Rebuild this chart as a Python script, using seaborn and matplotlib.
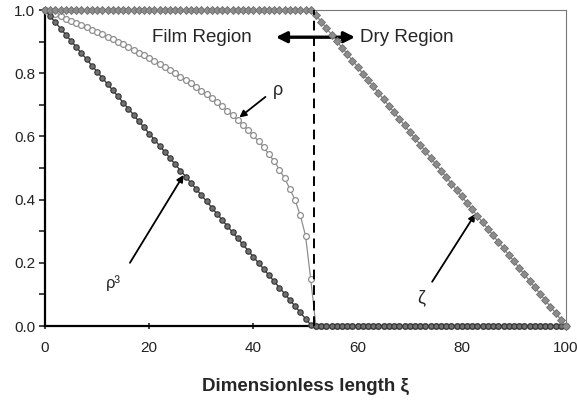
import numpy as np
import pandas as pd
import matplotlib
matplotlib.use("Agg")
import matplotlib.pyplot as plt
import seaborn as sns

# Dimensionless length (grid points)
xi = list(range(0, 101))

# rho^3 : liquid film fraction, falls linearly to zero at the film front
rho3 = [1.000, 0.980, 0.961, 0.941, 0.922, 0.902, 0.883, 0.863, 0.844, 0.824,
        0.805, 0.785, 0.766, 0.746, 0.727, 0.707, 0.688, 0.668, 0.648, 0.629,
        0.609, 0.590, 0.570, 0.551, 0.531, 0.512, 0.492, 0.473, 0.453, 0.434,
        0.414, 0.395, 0.375, 0.355, 0.336, 0.316, 0.297, 0.277, 0.258, 0.238,
        0.219, 0.199, 0.180, 0.160, 0.141, 0.121, 0.102, 0.082, 0.063, 0.043,
        0.023, 0.004] + [0.0] * 49

# rho : film thickness profile
rho = [1.000, 0.993, 0.987, 0.980, 0.973, 0.966, 0.959, 0.952, 0.945, 0.938,
       0.930, 0.923, 0.915, 0.907, 0.899, 0.891, 0.883, 0.874, 0.865, 0.857,
       0.848, 0.839, 0.829, 0.820, 0.810, 0.800, 0.789, 0.779, 0.768, 0.757,
       0.745, 0.734, 0.721, 0.708, 0.695, 0.681, 0.667, 0.652, 0.637, 0.620,
       0.603, 0.584, 0.565, 0.543, 0.521, 0.495, 0.467, 0.434, 0.398, 0.350,
       0.286, 0.148] + [0.0] * 49

# zeta : dry-region variable
zeta = [1.0] * 52 + [
    0.984, 0.963, 0.943, 0.922, 0.902, 0.881, 0.861, 0.840, 0.820, 0.799,
    0.779, 0.758, 0.738, 0.717, 0.697, 0.676, 0.656, 0.635, 0.615, 0.594,
    0.574, 0.553, 0.533, 0.512, 0.492, 0.471, 0.451, 0.430, 0.410, 0.389,
    0.369, 0.348, 0.328, 0.307, 0.287, 0.266, 0.246, 0.225, 0.205, 0.184,
    0.164, 0.143, 0.123, 0.102, 0.082, 0.061, 0.041, 0.020, 0.000]

front_xi = 51.6

df = pd.DataFrame({"xi": xi, "rho3": rho3, "rho": rho, "zeta": zeta})

sns.set_style("ticks")
plt.rcParams["font.family"] = ["Liberation Sans", "DejaVu Sans"]

fig = plt.figure(figsize=(5.77, 4.01), dpi=100)
ax = fig.add_axes([0.078, 0.187, 0.903, 0.788])

sns.lineplot(data=df, x="xi", y="rho", ax=ax, color="#8e8e8e", lw=0.9,
             marker="o", markersize=4.2, markerfacecolor="white",
             markeredgecolor="#8e8e8e", markeredgewidth=0.9, zorder=3,
             clip_on=False)
sns.lineplot(data=df, x="xi", y="rho3", ax=ax, color="#3a3a3a", lw=1.0,
             marker="o", markersize=3.9, markerfacecolor="#707070",
             markeredgecolor="#333333", markeredgewidth=0.8, zorder=4,
             clip_on=False)
sns.lineplot(data=df, x="xi", y="zeta", ax=ax, color="#8a8a8a", lw=1.0,
             marker="D", markersize=3.8, markerfacecolor="#8c8c8c",
             markeredgecolor="#6e6e6e", markeredgewidth=0.6, zorder=5,
             clip_on=False)

# film front
ax.plot([front_xi, front_xi], [0, 1], color="black", lw=1.4,
        ls=(0, (5, 3)), zorder=6)

ax.set_xlim(0, 100)
ax.set_ylim(0, 1.0)
ax.set_xticks([0, 20, 40, 60, 80, 100])
ax.set_xticklabels(["0", "20", "40", "60", "80", "100"])
ax.set_yticks([0.0, 0.2, 0.4, 0.6, 0.8, 1.0])
ax.set_yticklabels(["0.0", "0.2", "0.4", "0.6", "0.8", "1.0"])
ax.set_yticks([0.1, 0.3, 0.5, 0.7, 0.9], minor=True)

ax.tick_params(axis="y", which="both", direction="out", length=4, width=1.2,
               labelsize=11, pad=3, colors="#222222")
ax.tick_params(axis="x", which="both", direction="inout", length=5, width=1.2,
               labelsize=11, pad=8, colors="#222222")

for side in ["left", "bottom"]:
    ax.spines[side].set_linewidth(1.6)
    ax.spines[side].set_color("black")
for side in ["top", "right"]:
    ax.spines[side].set_linewidth(0.8)
    ax.spines[side].set_color("#777777")
    ax.spines[side].set_linestyle((0, (1, 1)))

ax.set_xlabel("Dimensionless length ξ", fontsize=13.5, fontweight="bold",
              labelpad=17)
ax.set_ylabel("")

# region labels and double arrow
ax.text(20.5, 0.914, "Film Region", fontsize=13.5, ha="left", va="center")
ax.text(60.5, 0.914, "Dry Region", fontsize=13.5, ha="left", va="center")
ax.annotate("", xy=(44.3, 0.914), xytext=(59.5, 0.914),
            arrowprops=dict(arrowstyle="<|-|>", color="black", lw=2.4,
                            mutation_scale=16, shrinkA=0, shrinkB=0))

# curve labels
ax.annotate("", xy=(37.3, 0.66), xytext=(42.3, 0.725),
            arrowprops=dict(arrowstyle="-|>", color="black", lw=1.3,
                            mutation_scale=10, shrinkA=0, shrinkB=0))
ax.text(43.8, 0.745, "ρ", fontsize=13, ha="left", va="center")

ax.annotate("", xy=(26.6, 0.478), xytext=(16.3, 0.2),
            arrowprops=dict(arrowstyle="-|>", color="black", lw=1.3,
                            mutation_scale=10, shrinkA=0, shrinkB=0))
ax.text(11.6, 0.135, "ρ³", fontsize=12, ha="left", va="center")

ax.annotate("", xy=(82.6, 0.355), xytext=(74.3, 0.14),
            arrowprops=dict(arrowstyle="-|>", color="black", lw=1.3,
                            mutation_scale=10, shrinkA=0, shrinkB=0))
ax.text(71.5, 0.09, "ζ", fontsize=13, ha="left", va="center")

fig.savefig("out.png", dpi=100, facecolor="white")
